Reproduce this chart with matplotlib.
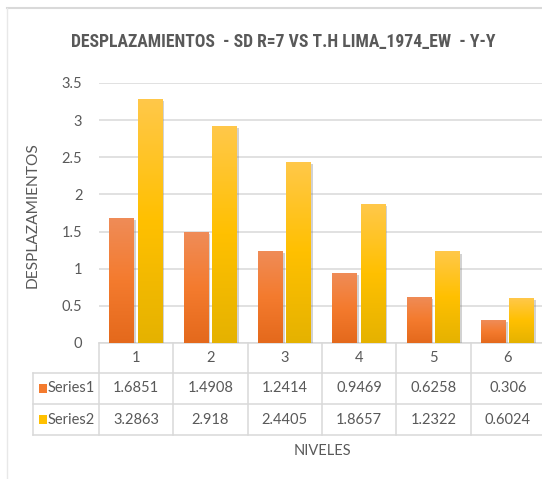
import numpy as np
import matplotlib
matplotlib.use("Agg")
import matplotlib.pyplot as plt
from matplotlib import patheffects as pe
from matplotlib import font_manager
from matplotlib.colors import LinearSegmentedColormap
from matplotlib.transforms import blended_transform_factory
from matplotlib.lines import Line2D
from matplotlib.patches import Rectangle

# ---- data ----
niveles = ["1", "2", "3", "4", "5", "6"]
series_names = ["Series1", "Series2"]
series1 = [1.6851, 1.4908, 1.2414, 0.9469, 0.6258, 0.306]
series2 = [3.2863, 2.918, 2.4405, 1.8657, 1.2322, 0.6024]
series1_labels = ["1.6851", "1.4908", "1.2414", "0.9469", "0.6258", "0.306"]
series2_labels = ["3.2863", "2.918", "2.4405", "1.8657", "1.2322", "0.6024"]
yticks = [0, 0.5, 1, 1.5, 2, 2.5, 3, 3.5]
ytick_labels = ["0", "0.5", "1", "1.5", "2", "2.5", "3", "3.5"]
title = "DESPLAZAMIENTOS  - SD R=7 VS T.H LIMA_1974_EW  - Y-Y"

TEXT = "#595959"
GRID = "#D9D9D9"
FONT = ["Lato", "DejaVu Sans"]


def first_available(names):
    for n in names:
        try:
            font_manager.findfont(font_manager.FontProperties(family=n, weight="bold"),
                                  fallback_to_default=False)
            return n
        except Exception:
            continue
    return "DejaVu Sans"


TITLE_FONT = first_available(["Liberation Sans Narrow", "DejaVu Sans Condensed",
                              "Roboto Condensed", "Open Sans Condensed", "Roboto"])

W, H = 542, 479
fig = plt.figure(figsize=(W / 100, H / 100), dpi=100)


def fx(px):
    return px / W


def fy(py):
    return 1 - py / H


# plot area: x from 99px to 545px, y from 83px (3.5) to 343px (0)
ax = fig.add_axes([fx(99), fy(343), fx(545) - fx(99), fy(83) - fy(343)])

x = np.arange(1, len(niveles) + 1)
bw = 0.33
off1, off2 = -0.195, 0.185

grad1 = LinearSegmentedColormap.from_list("g1", ["#E4691C", "#F47B2E", "#EF8C58"])
grad2 = LinearSegmentedColormap.from_list("g2", ["#E5B200", "#FFC000", "#FFC84A"])

shadow = [pe.SimplePatchShadow(offset=(1.5, -1.5), shadow_rgbFace="#7F7F7F", alpha=0.35),
          pe.Normal()]


def gradient_bars(xpos, vals, cmap, base_color):
    bars = ax.bar(xpos, vals, width=bw, color=base_color, zorder=3, linewidth=0)
    g = np.linspace(0, 1, 256).reshape(-1, 1)
    for b in bars:
        b.set_path_effects(shadow)
        x0, y0 = b.get_x(), b.get_y()
        im = ax.imshow(g, cmap=cmap, origin="lower", aspect="auto",
                       extent=[x0, x0 + b.get_width(), y0, y0 + b.get_height()],
                       zorder=4, interpolation="bilinear")
        im.set_clip_path(b)
    return bars


gradient_bars(x + off1, series1, grad1, "#F47B2E")
gradient_bars(x + off2, series2, grad2, "#FFC000")

ax.set_xlim(0.5, len(niveles) + 0.5)
ax.set_ylim(0, 3.5)
ax.set_yticks(yticks)
ax.set_yticklabels(ytick_labels, fontsize=10.5, color=TEXT, family=FONT)
ax.tick_params(axis="y", length=0, pad=12)
ax.set_xticks([])
ax.yaxis.grid(True, color=GRID, linewidth=1.1)
ax.set_axisbelow(True)
for s in ["top", "right", "left"]:
    ax.spines[s].set_visible(False)
ax.spines["bottom"].set_color(GRID)
ax.spines["bottom"].set_linewidth(1.1)
ax.set_facecolor("none")

# ---- data table under the plot ----
tb = blended_transform_factory(ax.transData, fig.transFigure)
row_top, row1, row2, row_bot = 343, 373, 404, 435
left_px = 33

for ry in (row1, row2, row_bot):
    fig.add_artist(Line2D([fx(left_px), fx(545)], [fy(ry), fy(ry)], color=GRID, lw=1.1))
for bx in np.arange(0.5, len(niveles) + 1, 1.0):
    ax.add_line(Line2D([bx, bx], [fy(row_top), fy(row_bot)], transform=tb,
                       color=GRID, lw=1.1, clip_on=False))
fig.add_artist(Line2D([fx(left_px), fx(left_px)], [fy(row1), fy(row_bot)], color=GRID, lw=1.1))

for xi, lab in zip(x, niveles):
    ax.text(xi, fy((row_top + row1) / 2), lab, transform=tb, ha="center", va="center",
            fontsize=10.5, color=TEXT, family=FONT, clip_on=False)

rows = [(series_names[0], series1_labels, "#F47B2E", row1, row2),
        (series_names[1], series2_labels, "#FFC000", row2, row_bot)]
for name, labels, col, r0, r1 in rows:
    yc = (r0 + r1) / 2
    fig.add_artist(Rectangle((fx(39), fy(yc + 4.5)), fx(8), fy(yc - 4.5) - fy(yc + 4.5),
                             facecolor=col, edgecolor="none"))
    fig.text(fx(48), fy(yc), name, ha="left", va="center", fontsize=10.5,
             color=TEXT, family=FONT)
    for xi, lab in zip(x, labels):
        ax.text(xi, fy(yc), lab, transform=tb, ha="center", va="center",
                fontsize=10.5, color=TEXT, family=FONT, clip_on=False)

# axis titles
fig.text(fx(322), fy(451), "NIVELES", ha="center", va="center", fontsize=10.5,
         color=TEXT, family=FONT)
fig.text(fx(33), fy(215), "DESPLAZAMIENTOS",
         ha="center", va="center", rotation=90,
         fontsize=11.2, color=TEXT, family=FONT)

# chart title, sized to a fixed width above the plot
t = fig.text(fx(283), fy(42), title, ha="center", va="center", fontsize=17,
             fontweight="bold", color=TEXT, family=[TITLE_FONT, "DejaVu Sans"])
renderer = fig.canvas.get_renderer()
target = 425.0
for _ in range(3):
    wpx = t.get_window_extent(renderer).width
    if wpx > target:
        t.set_fontsize(t.get_fontsize() * target / wpx)

# chart area outline
fig.add_artist(Line2D([fx(7), fx(542)], [fy(8), fy(8)], color="#D9D9D9", lw=1.5))
fig.add_artist(Line2D([fx(7), fx(7)], [fy(8), fy(479)], color="#E8E8E8", lw=1.0))

fig.savefig("out.png", dpi=100, facecolor="white")
